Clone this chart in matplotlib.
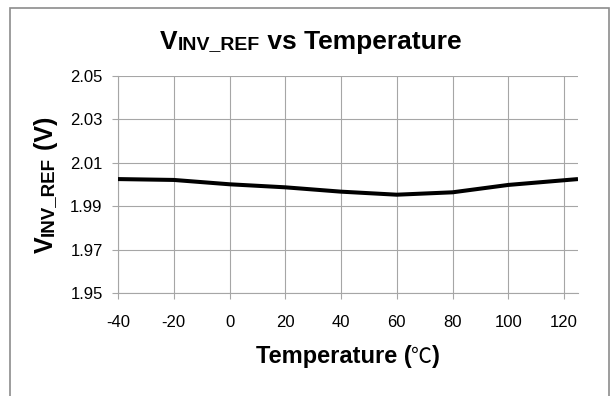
# VINV_REF vs Temperature line chart
import matplotlib.pyplot as plt
from matplotlib.patches import Rectangle

# Data
temperature = [-40, -20, 0, 20, 40, 60, 80, 100, 125]
v_inv_ref = [2.0025, 2.0021, 2.0001, 1.9987, 1.9967, 1.9953, 1.9964, 1.9998, 2.0025]
x_ticks = [-40, -20, 0, 20, 40, 60, 80, 100, 120]
y_ticks = [1.95, 1.97, 1.99, 2.01, 2.03, 2.05]

plt.rcParams['font.family'] = ['Liberation Sans', 'Noto Sans CJK SC', 'DejaVu Sans']

W, H = 610, 396
fig = plt.figure(figsize=(W / 100, H / 100), dpi=100)
ax = fig.add_axes([118 / W, 1 - 293 / H, 460 / W, 217 / H])

grid_col = '#a6a6a6'
ax.plot(temperature, v_inv_ref, color='black', linewidth=2.9, solid_capstyle='butt',
        solid_joinstyle='round', zorder=3)

ax.set_xlim(-40, 125)
ax.set_ylim(1.95, 2.05)
ax.set_xticks(x_ticks)
ax.set_yticks(y_ticks)
ax.set_xticklabels([str(t) for t in x_ticks])
ax.set_yticklabels([f'{v:.2f}' for v in y_ticks])
ax.grid(True, color=grid_col, linewidth=0.8)
ax.set_axisbelow(True)

for side in ['top', 'right']:
    ax.spines[side].set_visible(False)
for side in ['left', 'bottom']:
    ax.spines[side].set_color(grid_col)
    ax.spines[side].set_linewidth(0.8)
ax.tick_params(axis='both', colors=grid_col, length=4, width=0.8, labelsize=12,
               labelcolor='black')
ax.tick_params(axis='x', pad=12)
ax.tick_params(axis='y', pad=7)

renderer = fig.canvas.get_renderer()


def pieces(x, y, parts, rotation=0, center=False):
    # lay text pieces end to end on one baseline (x, y in pixels)
    texts = []
    for s, size, weight in parts:
        t = fig.text(x / W, 1 - y / H, s, fontsize=size, fontweight=weight,
                     ha='left', va='baseline', rotation=rotation, rotation_mode='anchor')
        bb = t.get_window_extent(renderer)
        texts.append(t)
        if rotation == 0:
            x += bb.width
        else:
            y -= bb.height
    if center:
        # shift so the whole run is centred on the start x
        total = x - texts[0].get_position()[0] * W
        for t in texts:
            px, py = t.get_position()
            t.set_position((px - total / 2 / W, py))


# Title: big V, small-caps INV_REF, then the rest
pieces(160, 49, [('V', 19, 'bold'), ('INV_REF', 14, 'bold'), (' vs Temperature', 19, 'bold')])

# X label with a light degree-Celsius sign
pieces(348, 363, [('Temperature (', 17, 'bold'), ('\u2103', 15, 'normal'), (')', 17, 'bold')],
       center=True)

# Y label, reading bottom to top
pieces(53, 253, [('V', 18, 'bold'), ('INV_REF', 13.5, 'bold'), (' (V)', 18, 'bold')], rotation=90)

# Chart frame
fig.add_artist(Rectangle((10 / W, -0.05), 599 / W, 1.05 - 8 / H, transform=fig.transFigure,
                         fill=False, edgecolor='#8c8c8c', linewidth=1.2))

plt.savefig('out.png', dpi=100)
